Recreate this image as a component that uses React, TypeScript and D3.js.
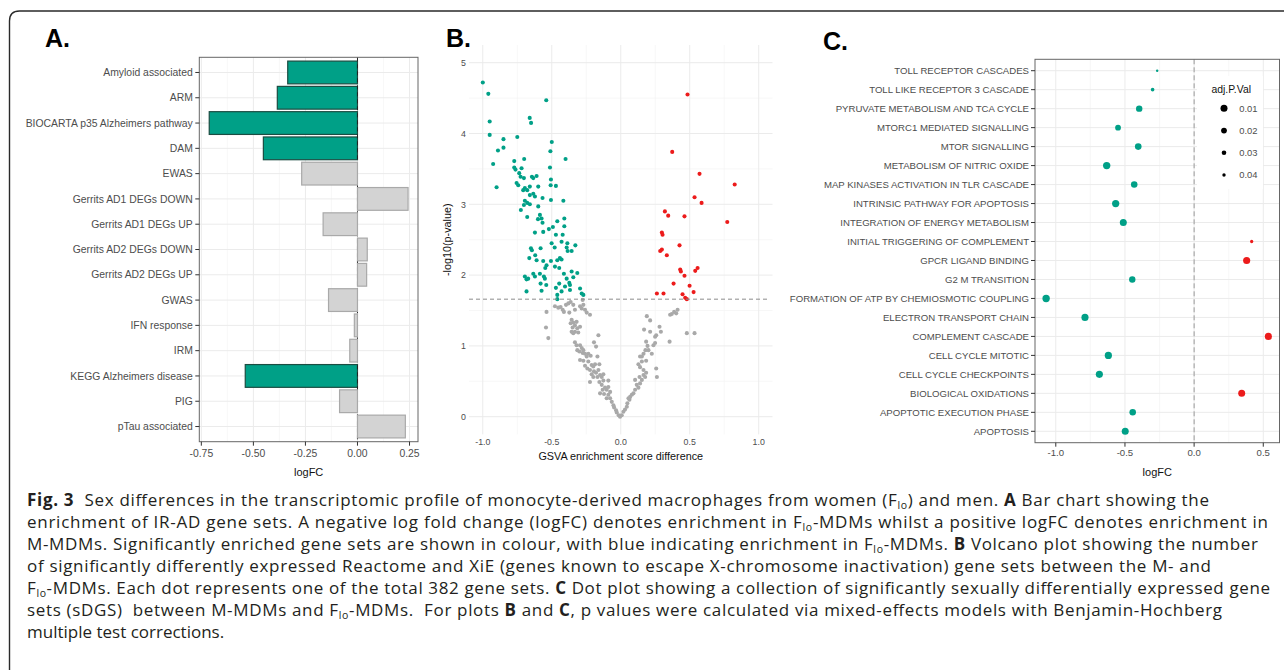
import React from "react";
import * as d3 from "d3";

// ---- panel A: IR-AD gene sets (bar chart)
const barSets = [
  "Amyloid associated",
  "ARM",
  "BIOCARTA p35 Alzheimers pathway",
  "DAM",
  "EWAS",
  "Gerrits AD1 DEGs DOWN",
  "Gerrits AD1 DEGs UP",
  "Gerrits AD2 DEGs DOWN",
  "Gerrits AD2 DEGs UP",
  "GWAS",
  "IFN response",
  "IRM",
  "KEGG Alzheimers disease",
  "PIG",
  "pTau associated",
];
const barLogFC = [-0.335, -0.385, -0.712, -0.452, -0.268, 0.243, -0.165, 0.047, 0.044, -0.139, -0.015, -0.037, -0.539, -0.086, 0.23];
const barSignificant = [true, true, true, true, false, false, false, false, false, false, false, false, true, false, false];
const barTicks = [-0.75, -0.5, -0.25, 0, 0.25];

// ---- panel B: volcano plot, [score difference, -log10(p)]
const volcanoDown: [number, number][] = [
  [-1.0, 4.72], [-0.96, 4.56], [-0.95, 4.17], [-0.95, 3.98], [-0.85, 3.92], [-0.85, 3.8], [-0.89, 3.76],
  [-0.75, 3.95], [-0.54, 4.47], [-0.66, 4.22], [-0.65, 4.15], [-0.5, 3.88], [-0.51, 3.75], [-0.7, 3.64],
  [-0.4, 3.64], [-0.9, 3.24], [-0.925, 3.57], [-0.772, 3.61], [-0.772, 3.52], [-0.763, 3.49], [-0.719, 3.51],
  [-0.736, 3.44], [-0.726, 3.39], [-0.702, 3.37], [-0.644, 3.39], [-0.634, 3.37], [-0.61, 3.4], [-0.755, 3.3],
  [-0.743, 3.27], [-0.695, 3.23], [-0.707, 3.2], [-0.678, 3.2], [-0.659, 3.25], [-0.598, 3.25], [-0.634, 3.15],
  [-0.659, 3.13], [-0.622, 3.11], [-0.567, 3.09], [-0.513, 3.52], [-0.506, 3.35], [-0.508, 3.27], [-0.47, 3.26],
  [-0.506, 3.06], [-0.416, 3.05], [-0.695, 3.05], [-0.678, 3.02], [-0.659, 3.0], [-0.702, 2.99], [-0.724, 2.92],
  [-0.598, 2.97], [-0.586, 2.85], [-0.574, 2.8], [-0.6, 2.79], [-0.567, 2.74], [-0.678, 2.82], [-0.622, 2.6],
  [-0.562, 2.61], [-0.521, 2.65], [-0.492, 2.68], [-0.46, 2.76], [-0.409, 2.8], [-0.409, 2.69], [-0.47, 2.57],
  [-0.421, 2.57], [-0.429, 2.47], [-0.501, 2.45], [-0.479, 2.39], [-0.387, 2.45], [-0.392, 2.39], [-0.385, 2.34],
  [-0.329, 2.42], [-0.356, 2.34], [-0.651, 2.38], [-0.644, 2.35], [-0.581, 2.38], [-0.62, 2.28], [-0.663, 2.24],
  [-0.61, 2.21], [-0.562, 2.2], [-0.538, 2.14], [-0.506, 2.2], [-0.46, 2.21], [-0.441, 2.24], [-0.429, 2.22],
  [-0.477, 2.12], [-0.547, 2.1], [-0.557, 1.98], [-0.55, 1.95], [-0.586, 2.02], [-0.622, 1.98], [-0.671, 1.95],
  [-0.695, 1.98], [-0.683, 1.94], [-0.634, 2.02], [-0.581, 1.88], [-0.574, 1.78], [-0.683, 1.77], [-0.54, 1.86],
  [-0.47, 1.82], [-0.446, 2.1], [-0.412, 2.02], [-0.392, 1.95], [-0.356, 2.05], [-0.315, 2.03], [-0.344, 1.97],
  [-0.373, 1.89], [-0.368, 1.86], [-0.368, 1.79], [-0.404, 1.84], [-0.429, 1.77], [-0.46, 1.72], [-0.46, 1.66],
  [-0.295, 1.81], [-0.283, 1.74], [-0.271, 1.72], [-0.446, 1.88],
];
const volcanoUp: [number, number][] = [
  [0.484, 4.55], [0.373, 3.74], [0.571, 3.43], [0.826, 3.28], [0.535, 3.1], [0.586, 3.02], [0.32, 2.9],
  [0.344, 2.84], [0.462, 2.83], [0.772, 2.75], [0.298, 2.6], [0.303, 2.57], [0.286, 2.34], [0.298, 2.36],
  [0.334, 2.28], [0.426, 2.42], [0.431, 2.08], [0.436, 2.05], [0.462, 1.99], [0.383, 1.88], [0.499, 1.85],
  [0.54, 2.06], [0.557, 2.1], [0.528, 1.76], [0.262, 1.74], [0.31, 1.74], [0.448, 1.73], [0.467, 1.68], [0.479, 1.66],
];
const volcanoNS: [number, number][] = [
  [-0.477, 1.56], [-0.453, 1.54], [-0.436, 1.55], [-0.421, 1.51], [-0.397, 1.58], [-0.38, 1.6], [-0.363, 1.62],
  [-0.344, 1.58], [-0.332, 1.51], [-0.373, 1.47], [-0.412, 1.48], [-0.295, 1.56], [-0.283, 1.53], [-0.271, 1.58],
  [-0.259, 1.51], [-0.247, 1.47], [-0.223, 1.44], [-0.276, 1.65], [-0.538, 1.48], [-0.542, 1.26], [-0.525, 1.11],
  [-0.356, 1.37], [-0.344, 1.33], [-0.363, 1.32], [-0.332, 1.29], [-0.32, 1.34], [-0.349, 1.26], [-0.315, 1.25],
  [-0.295, 1.27], [-0.332, 1.2], [-0.356, 1.2], [-0.344, 1.18], [-0.308, 1.19], [-0.162, 1.15], [-0.332, 1.05],
  [-0.32, 1.01], [-0.295, 1.01], [-0.283, 0.97], [-0.271, 0.94], [-0.315, 0.94], [-0.3, 0.92], [-0.276, 0.9],
  [-0.259, 0.89], [-0.194, 1.05], [-0.179, 0.99], [-0.235, 0.89], [-0.247, 0.85], [-0.218, 0.86], [-0.169, 0.85],
  [-0.295, 0.8], [-0.271, 0.79], [-0.235, 0.78], [-0.259, 0.72], [-0.242, 0.68], [-0.223, 0.66], [-0.211, 0.73],
  [-0.199, 0.71], [-0.194, 0.64], [-0.211, 0.6], [-0.179, 0.62], [-0.162, 0.66], [-0.15, 0.59], [-0.138, 0.56],
  [-0.169, 0.56], [-0.199, 0.56], [-0.223, 0.49], [-0.155, 0.49], [-0.126, 0.51], [-0.09, 0.51], [-0.138, 0.45],
  [-0.114, 0.41], [-0.102, 0.38], [-0.131, 0.38], [-0.15, 0.33], [-0.121, 0.32], [-0.09, 0.31], [-0.077, 0.26],
  [-0.102, 0.26], [-0.065, 0.21], [-0.053, 0.16], [-0.048, 0.13], [-0.034, 0.09], [-0.029, 0.06], [-0.015, 0.02],
  [-0.005, 0.0], [-0.077, 0.35], [-0.09, 0.42], [-0.126, 0.6], [-0.186, 0.74], [-0.155, 0.74],
  [0.007, 0.02], [0.019, 0.07], [0.031, 0.1], [0.044, 0.14], [0.048, 0.19], [0.063, 0.24], [0.068, 0.28],
  [0.08, 0.31], [0.056, 0.26], [0.092, 0.33], [0.104, 0.38], [0.128, 0.41], [0.116, 0.45], [0.14, 0.47],
  [0.104, 0.52], [0.136, 0.56], [0.165, 0.59], [0.177, 0.56], [0.153, 0.52], [0.184, 0.62], [0.165, 0.66],
  [0.14, 0.7], [0.128, 0.74], [0.153, 0.78], [0.184, 0.79], [0.14, 0.85], [0.165, 0.89], [0.179, 0.94],
  [0.194, 1.0], [0.184, 1.06], [0.225, 0.89], [0.237, 1.01], [0.249, 1.04], [0.257, 0.68], [0.262, 0.56],
  [0.213, 1.2], [0.169, 1.23], [0.189, 1.42], [0.213, 1.36], [0.257, 1.15], [0.281, 1.27], [0.291, 1.2],
  [0.249, 1.13], [0.354, 1.06], [0.402, 1.46], [0.387, 1.48], [0.37, 1.45], [0.358, 1.44], [0.412, 1.51],
  [0.479, 1.18], [0.535, 1.18], [0.153, 0.85], [0.201, 0.94],
];
const volcanoXLim = [-1, 1];
const volcanoYLim = [0, 5];
const volcanoXTicks = [-1, -0.5, 0, 0.5, 1];
const volcanoYTicks = [0, 1, 2, 3, 4, 5];
const volcanoThreshold = 1.66;

// ---- panel C: sDGS dot plot
const dotSets = [
  "TOLL RECEPTOR CASCADES",
  "TOLL LIKE RECEPTOR 3 CASCADE",
  "PYRUVATE METABOLISM AND TCA CYCLE",
  "MTORC1 MEDIATED SIGNALLING",
  "MTOR SIGNALLING",
  "METABOLISM OF NITRIC OXIDE",
  "MAP KINASES ACTIVATION IN TLR CASCADE",
  "INTRINSIC PATHWAY FOR APOPTOSIS",
  "INTEGRATION OF ENERGY METABOLISM",
  "INITIAL TRIGGERING OF COMPLEMENT",
  "GPCR LIGAND BINDING",
  "G2 M TRANSITION",
  "FORMATION OF ATP BY CHEMIOSMOTIC COUPLING",
  "ELECTRON TRANSPORT CHAIN",
  "COMPLEMENT CASCADE",
  "CELL CYCLE MITOTIC",
  "CELL CYCLE CHECKPOINTS",
  "BIOLOGICAL OXIDATIONS",
  "APOPTOTIC EXECUTION PHASE",
  "APOPTOSIS",
];
const dotLogFC = [-0.267, -0.3, -0.397, -0.55, -0.404, -0.632, -0.433, -0.567, -0.512, 0.416, 0.38, -0.447, -1.07, -0.789, 0.537, -0.62, -0.685, 0.344, -0.444, -0.498];
const dotAdjP = [0.048, 0.038, 0.015, 0.02, 0.013, 0.007, 0.014, 0.008, 0.01, 0.041, 0.009, 0.015, 0.007, 0.009, 0.009, 0.008, 0.009, 0.01, 0.014, 0.01];
const dotTicks = [-1, -0.5, 0, 0.5];
const legendP = [0.01, 0.02, 0.03, 0.04];

const TEAL = "#00A087";
const RED = "#EC1B1B";
const GREY_PT = "#A9A9A9";
const AXIS_TEXT = "#4d4d4d";
const GRID = "#ebebeb";
const GRID_MINOR = "#f3f3f3";
const FONT = "'Liberation Sans', Arial, sans-serif";

const fmt = (spec: string) => {
  const f = d3.format(spec);
  return (v: number) => f(v).replace("\u2212", "-");
};

// ggplot style 5% expansion of a continuous range
const expand = (ext: number[], k = 0.05) => {
  const span = ext[1] - ext[0];
  return [ext[0] - span * k, ext[1] + span * k];
};

const mids = (ticks: number[]) => d3.pairs(ticks).map(([a, b]) => (a + b) / 2);

function BarPanel() {
  const left = 199.3, right = 418, top = 57.3, bottom = 441.7;
  const x = d3.scaleLinear().domain(expand(d3.extent(barLogFC) as number[])).range([left, right]);
  const y = d3.scaleBand().domain(barSets).range([top, bottom]).paddingInner(0.1).paddingOuter(0.15);
  const yc = (s: string) => (y(s) as number) + y.bandwidth() / 2;
  const minor = mids(barTicks);
  const f = fmt(".2f");
  const bar = (i: number) => {
    const v = barLogFC[i];
    const sig = barSignificant[i];
    return (
      <rect
        key={barSets[i]}
        x={x(Math.min(0, v))}
        y={y(barSets[i])}
        width={Math.abs(x(v) - x(0))}
        height={y.bandwidth()}
        fill={sig ? TEAL : "#d3d3d3"}
        stroke={sig ? "#1b4d42" : "#a9a9a9"}
        strokeWidth={1.2}
      />
    );
  };
  const idx = d3.range(barSets.length);

  return (
    <g fontFamily={FONT}>
      <text x={45} y={47} fontSize={25} fontWeight="bold" fill="#000">A.</text>
      <rect x={left} y={top} width={right - left} height={bottom - top} fill="#fff" />
      {minor.map((t) => (
        <line key={"m" + t} x1={x(t)} x2={x(t)} y1={top} y2={bottom} stroke={GRID_MINOR} strokeWidth={0.7} />
      ))}
      {barTicks.map((t) => (
        <line key={"g" + t} x1={x(t)} x2={x(t)} y1={top} y2={bottom} stroke={GRID} strokeWidth={1} />
      ))}
      {barSets.map((s) => (
        <line key={"h" + s} x1={left} x2={right} y1={yc(s)} y2={yc(s)} stroke={GRID} strokeWidth={1} />
      ))}
      {idx.filter((i) => barSignificant[i]).map(bar)}
      <line x1={x(0)} x2={x(0)} y1={top} y2={bottom} stroke="#222" strokeWidth={1} strokeDasharray="4,3" />
      {idx.filter((i) => !barSignificant[i]).map(bar)}
      <rect x={left} y={top} width={right - left} height={bottom - top} fill="none" stroke="#666" strokeWidth={1} />
      {barSets.map((s) => (
        <g key={"l" + s}>
          <line x1={left - 4} x2={left} y1={yc(s)} y2={yc(s)} stroke="#333" />
          <text x={left - 6.5} y={yc(s) + 3.6} fontSize={10.4} textAnchor="end" fill={AXIS_TEXT}>{s}</text>
        </g>
      ))}
      {barTicks.map((t) => (
        <g key={"t" + t}>
          <line x1={x(t)} x2={x(t)} y1={bottom} y2={bottom + 4} stroke="#333" />
          <text x={x(t)} y={bottom + 15.5} fontSize={10.4} textAnchor="middle" fill={AXIS_TEXT}>{f(t)}</text>
        </g>
      ))}
      <text x={(left + right) / 2} y={475.5} fontSize={11} textAnchor="middle" fill="#111">logFC</text>
    </g>
  );
}

function VolcanoPanel() {
  const left = 469, right = 772.5, top = 45, bottom = 434.4;
  const x = d3.scaleLinear().domain(expand(volcanoXLim)).range([left, right]);
  const y = d3.scaleLinear().domain(expand(volcanoYLim)).range([bottom, top]);
  const f = fmt(".1f");
  const dots = (pts: [number, number][], color: string, key: string) =>
    pts.map((p, i) => <circle key={key + i} cx={x(p[0])} cy={y(p[1])} r={2.05} fill={color} />);

  return (
    <g fontFamily={FONT}>
      <text x={446} y={47} fontSize={25} fontWeight="bold" fill="#000">B.</text>
      {mids(volcanoXTicks).map((t) => (
        <line key={"xm" + t} x1={x(t)} x2={x(t)} y1={top} y2={bottom} stroke={GRID_MINOR} strokeWidth={0.7} />
      ))}
      {mids(volcanoYTicks).map((t) => (
        <line key={"ym" + t} x1={left} x2={right} y1={y(t)} y2={y(t)} stroke={GRID_MINOR} strokeWidth={0.7} />
      ))}
      {volcanoXTicks.map((t) => (
        <line key={"xg" + t} x1={x(t)} x2={x(t)} y1={top} y2={bottom} stroke={GRID} strokeWidth={1} />
      ))}
      {volcanoYTicks.map((t) => (
        <line key={"yg" + t} x1={left} x2={right} y1={y(t)} y2={y(t)} stroke={GRID} strokeWidth={1} />
      ))}
      {dots(volcanoNS, GREY_PT, "n")}
      {dots(volcanoDown, TEAL, "d")}
      {dots(volcanoUp, RED, "u")}
      <line
        x1={left}
        x2={right - 4}
        y1={y(volcanoThreshold)}
        y2={y(volcanoThreshold)}
        stroke="#8c8c8c"
        strokeWidth={1}
        strokeDasharray="4,3"
      />
      {volcanoYTicks.map((t) => (
        <text key={"yl" + t} x={466} y={y(t) + 3.2} fontSize={8.8} textAnchor="end" fill={AXIS_TEXT}>{t}</text>
      ))}
      {volcanoXTicks.map((t) => (
        <text key={"xl" + t} x={x(t)} y={445} fontSize={8.8} textAnchor="middle" fill={AXIS_TEXT}>{f(t)}</text>
      ))}
      <text x={(left + right) / 2} y={459.5} fontSize={10.8} textAnchor="middle" fill="#111">
        GSVA enrichment score difference
      </text>
      <text transform={`translate(451, ${(top + bottom) / 2}) rotate(-90)`} fontSize={10.8} textAnchor="middle" fill="#111">
        -log10(p-value)
      </text>
    </g>
  );
}

function DotPanel() {
  const left = 1035, right = 1279.5, top = 59.3, bottom = 442.7;
  const x = d3.scaleLinear().domain(expand(d3.extent(dotLogFC) as number[])).range([left, right]);
  const y = d3.scalePoint().domain(dotSets).range([top, bottom]).padding(0.6);
  const r = d3.scaleLinear().domain([0.005, 0.05]).range([3.8, 1.1]);
  const f = fmt(".1f");
  const lx = 1224;
  const ly = d3.scalePoint().domain(legendP.map(String)).range([108.3, 175]);

  return (
    <g fontFamily={FONT}>
      <text x={823} y={50} fontSize={25} fontWeight="bold" fill="#000">C.</text>
      <rect x={left} y={top} width={right - left} height={bottom - top} fill="#fff" />
      {mids(dotTicks).map((t) => (
        <line key={"m" + t} x1={x(t)} x2={x(t)} y1={top} y2={bottom} stroke={GRID_MINOR} strokeWidth={0.7} />
      ))}
      {dotTicks.map((t) => (
        <line key={"g" + t} x1={x(t)} x2={x(t)} y1={top} y2={bottom} stroke={GRID} strokeWidth={1} />
      ))}
      {dotSets.map((s) => (
        <line key={"h" + s} x1={left} x2={right} y1={y(s)} y2={y(s)} stroke={GRID} strokeWidth={1} />
      ))}
      <line x1={x(0)} x2={x(0)} y1={top} y2={bottom} stroke="#9a9a9a" strokeWidth={1} strokeDasharray="5,3" />
      {dotSets.map((s, i) => (
        <circle key={"c" + s} cx={x(dotLogFC[i])} cy={y(s)} r={r(dotAdjP[i])} fill={dotLogFC[i] < 0 ? TEAL : RED} />
      ))}
      {/* legend sits inside the panel */}
      <rect x={1197} y={76} width={66} height={113} fill="#fff" />
      <text x={1211.5} y={93} fontSize={10.4} fill="#111">adj.P.Val</text>
      {legendP.map((p) => (
        <g key={"lg" + p}>
          <circle cx={lx} cy={ly(String(p))} r={r(p)} fill="#000" />
          <text x={1239.3} y={(ly(String(p)) as number) + 3.3} fontSize={9.4} fill={AXIS_TEXT}>{p.toFixed(2)}</text>
        </g>
      ))}
      <rect x={left} y={top} width={right - left} height={bottom - top} fill="none" stroke="#666" strokeWidth={1} />
      {dotSets.map((s) => (
        <g key={"l" + s}>
          <line x1={left - 4} x2={left} y1={y(s)} y2={y(s)} stroke="#333" />
          <text x={left - 6} y={(y(s) as number) + 3.4} fontSize={9.6} textAnchor="end" fill={AXIS_TEXT}>{s}</text>
        </g>
      ))}
      {dotTicks.map((t) => (
        <g key={"t" + t}>
          <line x1={x(t)} x2={x(t)} y1={bottom} y2={bottom + 4} stroke="#333" />
          <text x={x(t)} y={bottom + 13} fontSize={9.6} textAnchor="middle" fill={AXIS_TEXT}>{f(t)}</text>
        </g>
      ))}
      <text x={(left + right) / 2} y={476} fontSize={11} textAnchor="middle" fill="#111">logFC</text>
    </g>
  );
}

type Seg = { t: string; b?: boolean; sub?: boolean };
const captionLines: { segs: Seg[]; width?: number }[] = [
  {
    width: 1182,
    segs: [
      { t: "Fig. 3", b: true },
      { t: "\u00a0 Sex differences in the transcriptomic profile of monocyte-derived macrophages from women (F" },
      { t: "lo", sub: true },
      { t: ") and men. " },
      { t: "A", b: true },
      { t: " Bar chart showing the" },
    ],
  },
  {
    width: 1241,
    segs: [
      { t: "enrichment of IR-AD gene sets. A negative log fold change (logFC) denotes enrichment in F" },
      { t: "lo", sub: true },
      { t: "-MDMs whilst a positive logFC denotes enrichment in" },
    ],
  },
  {
    width: 1231,
    segs: [
      { t: "M-MDMs. Significantly enriched gene sets are shown in colour, with blue indicating enrichment in F" },
      { t: "lo", sub: true },
      { t: "-MDMs. " },
      { t: "B", b: true },
      { t: " Volcano plot showing the number" },
    ],
  },
  {
    width: 1184,
    segs: [{ t: "of significantly differently expressed Reactome and XiE (genes known to escape X-chromosome inactivation) gene sets between the M- and" }],
  },
  {
    width: 1243,
    segs: [
      { t: "F" },
      { t: "lo", sub: true },
      { t: "-MDMs. Each dot represents one of the total 382 gene sets. " },
      { t: "C", b: true },
      { t: " Dot plot showing a collection of significantly sexually differentially expressed gene" },
    ],
  },
  {
    width: 1195,
    segs: [
      { t: "sets (sDGS)\u00a0 between M-MDMs and F" },
      { t: "lo", sub: true },
      { t: "-MDMs.\u00a0 For plots " },
      { t: "B", b: true },
      { t: " and " },
      { t: "C", b: true },
      { t: ", p values were calculated via mixed-effects models with Benjamin-Hochberg" },
    ],
  },
  { segs: [{ t: "multiple test corrections." }] },
];

function Caption() {
  return (
    <g fontFamily="'Open Sans', 'Noto Sans', sans-serif" fill="#231f20">
      {captionLines.map((line, i) => {
        let shifted = false;
        return (
          <text
            key={i}
            x={27}
            y={505.5 + i * 22}
            fontSize={17}
            textLength={line.width}
            lengthAdjust={line.width ? "spacing" : undefined}
          >
            {line.segs.map((s, j) => {
              let dy: number | undefined;
              if (s.sub) {
                dy = 3;
                shifted = true;
              } else if (shifted) {
                dy = -3;
                shifted = false;
              }
              return (
                <tspan key={j} dy={dy} fontWeight={s.b ? "bold" : "normal"} fontSize={s.sub ? 10.5 : 17}>
                  {s.t}
                </tspan>
              );
            })}
          </text>
        );
      })}
    </g>
  );
}

export default function App() {
  return (
    <svg width={1284} height={670} style={{ position: "absolute", left: 0, top: 0, background: "#fff" }}>
      <rect width={1284} height={670} fill="#fff" />
      <path d="M9.5,670 L9.5,21 Q9.5,11 19.5,11 L1284,11" fill="none" stroke="#2a2a2a" strokeWidth={1.4} />
      <BarPanel />
      <VolcanoPanel />
      <DotPanel />
      <Caption />
    </svg>
  );
}
